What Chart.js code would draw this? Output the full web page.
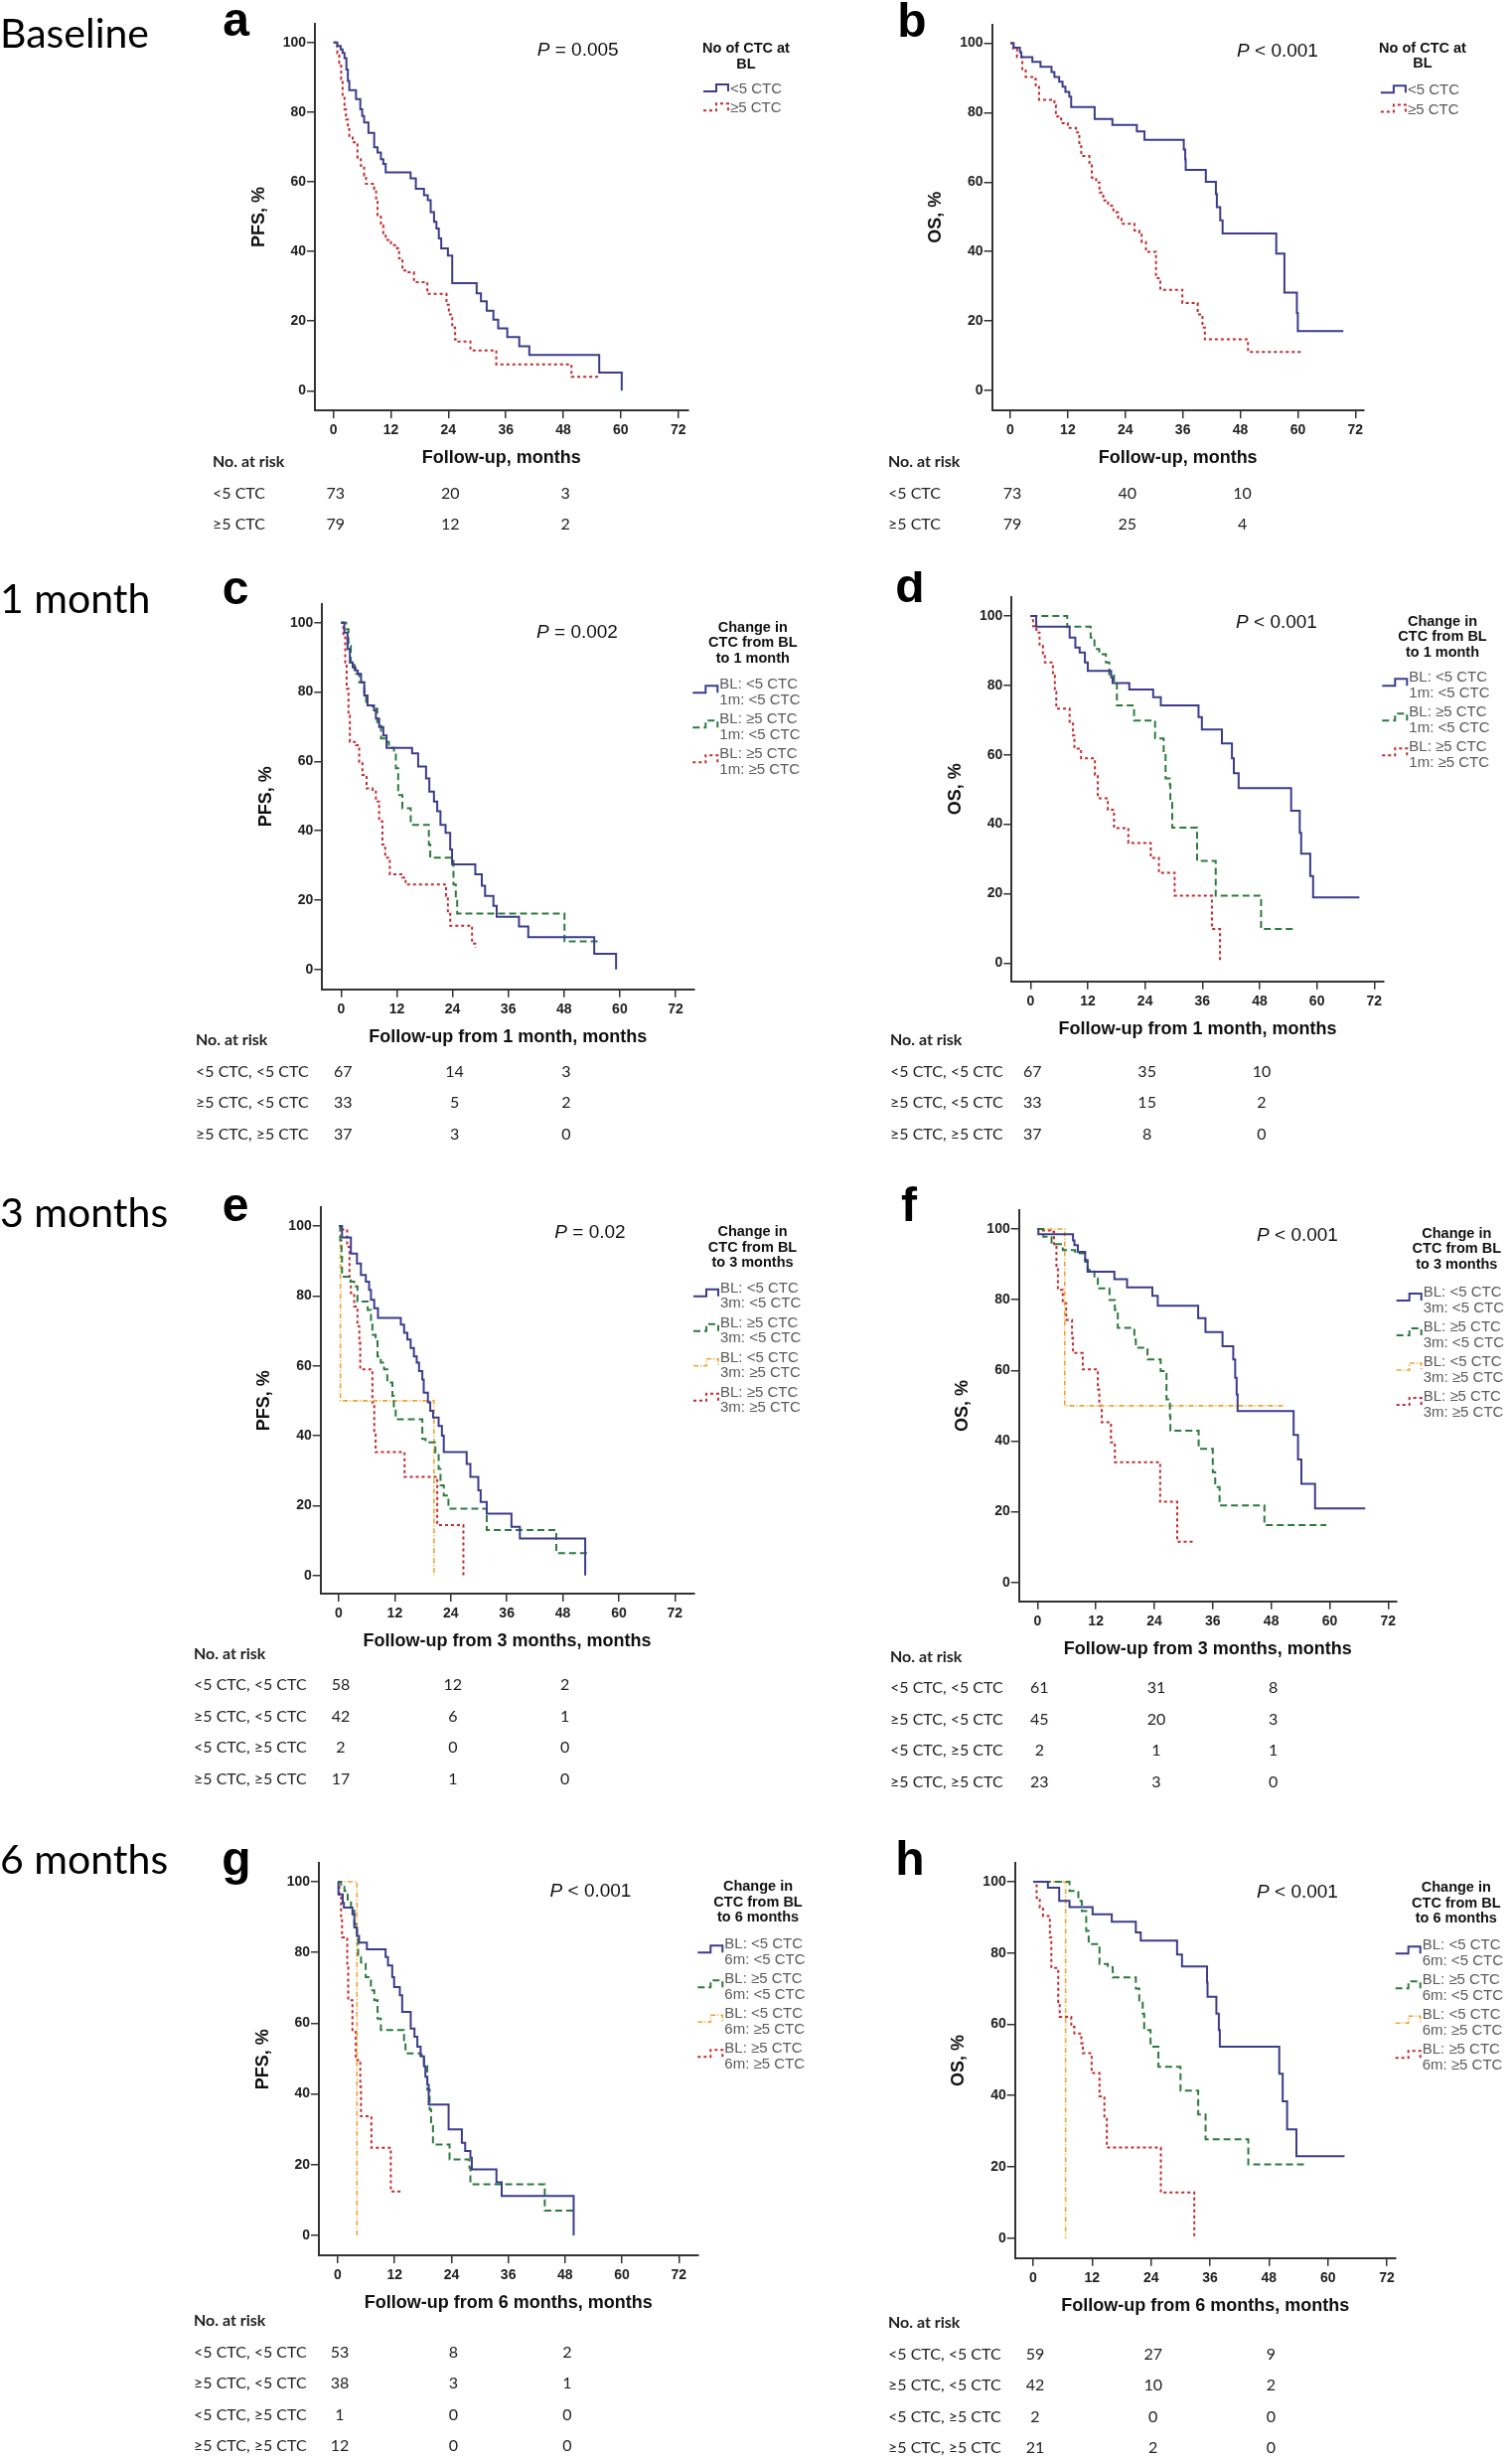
<!DOCTYPE html>
<html>
<head>
<meta charset="utf-8">
<script src="https://cdn.jsdelivr.net/npm/chart.js@4.4.1/dist/chart.umd.min.js"></script>
<style>
  html, body { margin: 0; padding: 0; background: #fff; }
  body { width: 1522px; height: 2474px; position: relative; overflow: hidden; }
  canvas { position: absolute; }
</style>
</head>
<body>
<script>
// ---- tick labels and risk-table columns ----
const monthTicks = [0, 12, 24, 36, 48, 60, 72];
const pctTicks = [0, 20, 40, 60, 80, 100];
const riskMonths = [0, 24, 48];

// ---- group labels ----
const baseGroups = ["<5 CTC", "≥5 CTC"];
const riskRows3 = ["<5 CTC, <5 CTC", "≥5 CTC, <5 CTC", "≥5 CTC, ≥5 CTC"];
const riskRows4 = ["<5 CTC, <5 CTC", "≥5 CTC, <5 CTC", "<5 CTC, ≥5 CTC", "≥5 CTC, ≥5 CTC"];
const change1m = ["BL: <5 CTC\n1m: <5 CTC", "BL: ≥5 CTC\n1m: <5 CTC", "BL: ≥5 CTC\n1m: ≥5 CTC"];
const change3m = ["BL: <5 CTC\n3m: <5 CTC", "BL: ≥5 CTC\n3m: <5 CTC", "BL: <5 CTC\n3m: ≥5 CTC", "BL: ≥5 CTC\n3m: ≥5 CTC"];
const change6m = ["BL: <5 CTC\n6m: <5 CTC", "BL: ≥5 CTC\n6m: <5 CTC", "BL: <5 CTC\n6m: ≥5 CTC", "BL: ≥5 CTC\n6m: ≥5 CTC"];

// ---- Kaplan-Meier curves: [month, % event-free] ----
const pfsBaseLow = [[0,100],[0.8,99],[1.5,98],[1.9,97],[2.3,95.5],[2.7,92.2],[3.0,88.9],[3.3,86.3],[4.7,83.7],[5.6,80.8],[6.0,78.9],[6.4,77],[7.3,74],[8.5,69.9],[9.2,68.4],[9.9,66.5],[10.4,65.1],[10.9,62.7],[16.1,61.0],[17.2,58.0],[18.9,56.1],[19.7,54.7],[20.3,51.3],[21.0,48.5],[21.5,46.6],[22.0,43.7],[22.5,40.9],[23.9,38.8],[24.8,30.9],[29.9,28.0],[30.8,25.7],[32.0,23.0],[33.4,20.4],[34.4,17.9],[36.3,15.4],[38.8,12.8],[40.9,10.3],[55.5,5.2],[60.2,0]];
const pfsBaseHigh = [[0,100],[0.4,99],[0.8,96.9],[1.2,94.1],[1.6,89.4],[1.9,84.6],[2.3,80.8],[2.6,77.9],[3.0,75.1],[3.3,72.7],[4.0,71.3],[5.0,67.0],[5.7,64.6],[6.4,61.8],[6.8,59.4],[8.5,58.0],[8.9,54.7],[9.2,50.4],[9.9,47.5],[10.4,45.2],[10.9,43.3],[12.0,41.8],[13.3,40.9],[13.7,38.0],[14.4,34.5],[15.4,34.0],[16.8,31.2],[19.6,27.8],[23.6,24.7],[24.1,21.9],[24.8,18.1],[25.4,14.7],[26.1,14.1],[28.6,11.6],[34.0,7.6],[49.7,4.0],[55.9,4.0]];
const osBaseLow = [[0,100],[0.7,98.7],[2.0,97.4],[2.3,96.0],[4.6,94.6],[6.3,93.2],[8.6,91.7],[9.2,90.3],[10.2,88.9],[10.9,87.5],[11.5,86.0],[12.3,84.6],[12.7,81.6],[17.6,78.2],[21.3,76.5],[26.4,74.6],[28.0,72.2],[36.2,69.4],[36.5,66.5],[36.6,63.5],[40.8,60.1],[42.9,56.6],[43.1,52.8],[43.8,49.0],[44.3,45.2],[55.5,39.4],[57.2,28.2],[59.8,22.3],[60.0,17.1],[69.5,17.1]];
const osBaseHigh = [[0,100],[0.6,98.4],[1.4,96.0],[2.5,92.2],[3.2,90.3],[4.6,89.8],[5.3,87.9],[6.0,83.7],[9.2,82.2],[9.5,78.9],[10.6,77.0],[12.0,75.6],[13.7,74.3],[14.4,70.3],[14.8,67.5],[16.5,65.6],[17.0,61.3],[17.9,59.9],[18.6,57.0],[19.4,54.7],[20.4,53.2],[21.5,51.3],[22.5,49.4],[23.2,48.0],[25.9,46.1],[26.9,45.6],[27.4,42.8],[28.3,39.9],[30.4,32.3],[31.3,29.0],[35.9,25.2],[39.1,21.9],[40.1,18.1],[40.6,14.7],[49.6,11.1],[60.9,11.1]];

const pfs1mLL = [[0,100],[0.7,97.1],[1.4,92.4],[1.9,88.5],[2.5,87.1],[3.1,86.2],[3.6,85.2],[4.3,82.8],[5.0,79.0],[5.7,76.1],[7.1,74.7],[7.5,72.3],[8.2,69.9],[9.1,67.5],[9.8,63.9],[15.3,62.3],[16.6,58.5],[18.3,55.1],[19.0,51.3],[20.0,48.4],[20.7,45.6],[21.4,41.7],[22.5,39.4],[23.5,34.6],[23.9,30.3],[28.9,27.4],[30.3,24.1],[31.0,21.2],[32.8,18.3],[33.5,15.2],[38.3,12.4],[40.3,9.3],[54.5,4.5],[59.2,0]];
const pfs1mHL = [[0,100],[1.1,98.1],[1.6,93.3],[2.1,88.5],[2.9,85.2],[3.9,82.8],[5.0,79.9],[5.4,76.1],[6.8,75.2],[7.8,71.3],[8.6,66.6],[9.5,65.6],[10.3,63.9],[11.4,62.8],[11.8,58.0],[12.3,50.3],[13.2,46.5],[15.0,41.7],[18.9,36.0],[19.2,32.2],[24.2,24.5],[24.7,20.7],[25.0,16.1],[48.1,8.1],[55.4,8.1]];
const pfs1mHH = [[0,100],[0.5,96.2],[0.9,88.5],[1.2,80.9],[1.6,73.2],[1.9,65.6],[3.2,64.7],[3.9,59.9],[4.6,56.1],[5.5,52.2],[6.8,51.3],[7.5,48.4],[8.2,42.7],[8.9,36.0],[9.5,32.2],[10.5,27.4],[13.2,26.5],[13.9,24.5],[22.6,21.2],[23.0,16.0],[23.5,12.6],[28.2,7.4],[28.9,6.2]];
const os1mLL = [[0,100],[1.2,96.9],[8.2,93.8],[9.4,90.9],[10.3,89.5],[11.4,86.6],[12.0,84.2],[16.9,82.3],[17.2,80.7],[20.7,78.8],[25.7,76.6],[27.3,74.2],[35.2,70.9],[35.9,67.3],[40.1,63.3],[42.2,59.0],[42.6,54.7],[43.6,50.4],[54.6,43.9],[56.4,37.5],[56.7,31.5],[58.6,25.1],[59.2,18.9],[68.9,18.9]];
const os1mHL = [[0,100],[7.7,96.9],[12.6,93.8],[13.4,90.5],[14.4,89.0],[15.8,86.6],[16.5,82.8],[17.5,80.9],[18.1,74.2],[21.7,69.9],[26.1,64.7],[27.9,59.9],[28.3,53.2],[29.2,51.3],[29.3,46.6],[29.7,39.0],[34.9,29.4],[38.8,19.4],[48.3,9.8],[55.3,9.8]];
const os1mHH = [[0,100],[0.55,97.1],[1.25,95.2],[1.9,91.4],[2.6,88.5],[3.0,86.6],[4.7,82.8],[5.1,78.1],[5.4,73.3],[8.2,69.5],[8.9,65.6],[9.2,61.8],[10.6,59.0],[13.5,54.2],[14.1,47.5],[16.2,44.2],[17.5,38.9],[20.5,34.6],[25.2,30.3],[26.9,26.0],[30.2,19.4],[38.0,9.8],[39.7,0]];

const pfs3mLL = [[0,100],[0.7,96.7],[2.6,92.1],[3.9,89.3],[4.75,86.0],[5.8,84.1],[6.5,81.7],[6.9,78.9],[7.6,76.5],[8.4,73.7],[13.3,71.8],[14.0,69.4],[14.7,67.5],[15.4,65.1],[16.1,62.7],[16.7,60.9],[17.2,58.5],[17.9,56.1],[18.2,52.3],[19.1,49.5],[19.6,47.1],[20.2,45.2],[21.4,42.8],[22.1,40.0],[22.5,35.3],[27.4,31.9],[28.2,28.2],[29.9,24.4],[30.4,21.0],[31.7,17.7],[37.0,13.9],[38.8,10.6],[52.8,0]];
const pfs3mHL = [[0,100],[0.3,95.9],[0.6,91.2],[0.7,85.5],[2.5,84.1],[3.3,82.7],[4.0,78.4],[6.2,76.0],[6.9,72.7],[7.2,68.9],[7.9,67.0],[8.3,62.7],[9.0,60.9],[9.7,59.0],[10.4,55.2],[11.5,51.4],[11.8,47.6],[12.2,44.7],[17.9,39.1],[18.6,38.1],[20.7,34.8],[21.4,30.5],[21.8,25.8],[22.5,22.9],[23.5,19.1],[31.7,13.0],[46.6,6.4],[53.5,6.4]];
const pfs3mLH = [[0,100],[0.35,50],[20.4,0]];
const pfs3mHH = [[0,100],[0.5,99],[1.8,94.0],[2.3,85.5],[2.6,80.8],[3.3,77.0],[4.0,71.3],[4.4,66.6],[4.6,59.0],[7.2,49.5],[7.6,41.0],[7.9,35.3],[14.1,28.2],[21.1,14.4],[26.7,0]];
const os3mLL = [[0,100],[0.2,98.5],[7.3,96.8],[7.6,95.4],[8.3,93.5],[9.8,91.2],[10.3,87.9],[15.8,85.8],[18.4,83.5],[23.6,81.1],[24.7,78.3],[33.0,74.8],[34.5,70.8],[38.0,66.8],[40.2,63.1],[40.6,57.9],[40.9,53.2],[41.1,48.5],[52.6,41.7],[53.5,34.8],[54.2,27.9],[57.0,20.9],[67.3,20.9]];
const os3mHL = [[0,100],[1.2,97.8],[2.9,95.7],[5.2,94.0],[7.75,93.1],[9.8,90.7],[10.3,88.4],[11.7,86.0],[12.4,83.2],[14.8,79.9],[15.9,77.1],[16.5,72.0],[19.9,68.7],[20.2,66.4],[22.6,63.1],[25.3,59.8],[26.5,51.8],[27.2,47.1],[27.3,42.9],[33.1,37.8],[36.0,31.2],[36.5,27.0],[37.4,21.8],[46.6,16.2],[59.3,16.2]];
const os3mLH = [[0,100],[5.6,50],[50.8,50]];
const os3mHH = [[0,100],[0.8,99.6],[2.7,99.2],[3.4,95.4],[3.9,89.3],[4.2,82.8],[5.2,79.0],[5.9,74.3],[7.1,69.2],[7.3,64.9],[9.3,60.3],[12.4,54.6],[12.7,50.0],[13.2,45.3],[15.1,39.6],[15.9,34.0],[25.2,22.8],[28.7,11.5],[32.2,11.5]];

const pfs6mLL = [[0,100],[0.14,96.4],[1.05,94.0],[1.3,92.7],[3.1,90.8],[3.5,87.1],[4.05,84.7],[4.5,82.8],[6.15,80.9],[10.1,78.7],[10.6,76.3],[11.5,73.0],[11.9,70.2],[13.1,67.9],[13.6,63.2],[15.4,58.5],[16.2,56.2],[16.8,53.4],[17.5,50.6],[18.2,47.8],[18.5,44.9],[18.9,42.6],[19.2,37.0],[23.4,30.0],[26.2,26.2],[26.9,23.9],[28.0,22.0],[28.3,18.7],[33.5,15.0],[34.6,11.2],[49.8,0]];
const pfs6mHL = [[0,100],[0.7,98.8],[1.4,97.4],[2.1,94.6],[2.8,91.8],[3.5,88.0],[4.05,84.3],[4.3,78.7],[4.9,77.2],[5.9,73.0],[7.0,69.3],[7.7,66.5],[8.4,61.3],[9.1,58.1],[14.0,55.2],[14.3,51.5],[17.5,51.0],[18.2,47.8],[18.9,41.2],[19.4,35.6],[19.7,30.9],[20.1,25.7],[23.6,21.5],[27.8,19.2],[28.0,14.5],[43.7,7.0],[50.5,7.0]];
const pfs6mLH = [[0,100],[4.05,0]];
const pfs6mHH = [[0,100],[0.35,96.4],[0.7,89.9],[0.9,84.3],[2.0,75.8],[2.2,66.5],[3.1,58.1],[3.8,49.6],[4.75,42.1],[4.9,33.7],[7.1,24.8],[11.2,12.4],[13.6,12.4]];
const os6mLL = [[0,100],[3.0,98.3],[5.3,94.6],[7.4,92.9],[12.1,90.9],[16.0,88.8],[20.9,85.8],[21.9,83.5],[29.3,79.6],[30.3,76.2],[35.4,71.8],[35.5,67.7],[37.3,63.0],[37.8,58.4],[38.0,53.7],[50.1,46.1],[50.8,38.4],[51.7,30.5],[53.6,23.0],[63.4,23.0]];
const os6mHL = [[0,100],[7.4,97.4],[9.2,94.6],[9.9,91.8],[10.8,86.2],[11.3,82.5],[13.5,76.9],[15.2,76.0],[16.2,73.2],[20.9,70.0],[21.6,66.7],[22.3,63.0],[22.6,58.4],[23.9,53.7],[25.5,48.1],[30.0,41.4],[33.6,34.7],[35.1,27.7],[43.8,20.7],[55.5,20.7]];
const os6mLH = [[0,100],[6.6,0]];
const os6mHH = [[0,100],[0.7,95.5],[1.35,92.8],[2.0,90.4],[3.4,84.4],[3.7,75.8],[5.1,66.3],[5.4,62.1],[7.75,59.3],[8.4,57.4],[9.8,54.6],[10.1,51.9],[11.9,46.3],[13.5,39.8],[14.5,33.7],[15.0,25.4],[26.0,12.8],[32.8,0]];

// ---- numbers at risk (columns = riskMonths) ----
const riskPfsBase = [[73, 20, 3], [79, 12, 2]];
const riskOsBase = [[73, 40, 10], [79, 25, 4]];
const riskPfs1m = [[67, 14, 3], [33, 5, 2], [37, 3, 0]];
const riskOs1m = [[67, 35, 10], [33, 15, 2], [37, 8, 0]];
const riskPfs3m = [[58, 12, 2], [42, 6, 1], [2, 0, 0], [17, 1, 0]];
const riskOs3m = [[61, 31, 8], [45, 20, 3], [2, 1, 1], [23, 3, 0]];
const riskPfs6m = [[53, 8, 2], [38, 3, 1], [1, 0, 0], [12, 0, 0]];
const riskOs6m = [[59, 27, 9], [42, 10, 2], [2, 0, 0], [21, 2, 0]];

// ---- line styles ----
const BLUE = { color: "#3b3c8c", dash: [], width: 2 };
const GREEN = { color: "#2c7a3e", dash: [7, 4], width: 2 };
const ORANGE = { color: "#f3a22c", dash: [5, 2, 1, 2], width: 1.6 };
const RED = { color: "#c5292f", dash: [3, 3], width: 2 };

const AXIS_FONT = "'Liberation Sans', Arial, sans-serif";
const TABLE_FONT = "Lato, 'Liberation Sans', sans-serif";
const Y_AXIS_W = 67;
const X_AXIS_H = 59;
const RISK_ROW_H = 31.5;

const pfsTitle = "PFS, %";
const osTitle = "OS, %";
const baseLegendTitle = ["No of CTC at", "BL"];

// ---- panel layout (page pixels) ----
const panels = [
  { box: [0, 0, 860, 550], area: [317, 24, 692.7, 413], x0: 335.7, x72: 682.7, y100: 42.7, y0: 393.3,
    letter: ["a", 237.5, 36], row: ["Baseline", 47.5], yTitle: pfsTitle, xTitle: "Follow-up, months",
    p: ["= 0.005", 246, 8.3], legTitle: baseLegendTitle, leg: [399.3, 415.3, 6.6, 47.3],
    series: [[pfsBaseLow, baseGroups[0], BLUE], [pfsBaseHigh, baseGroups[1], RED]],
    risk: riskPfsBase, riskLabels: baseGroups, table: [214, 52.3] },
  { box: [870, 0, 652, 550], area: [998.5, 24.5, 1372.8, 413], x0: 1017, x72: 1364.3, y100: 43.5, y0: 393,
    letter: ["b", 918, 36.5], yTitle: osTitle, xTitle: "Follow-up, months",
    p: ["< 0.001", 269, 8.7], legTitle: baseLegendTitle, leg: [399.9, 415, 5.3, 47.8],
    series: [[osBaseLow, baseGroups[0], BLUE], [osBaseHigh, baseGroups[1], RED]],
    risk: riskOsBase, riskLabels: baseGroups, table: [894, 52.3] },
  { box: [0, 575, 860, 585], area: [324.3, 608, 698.3, 995.7], x0: 343.3, x72: 680, y100: 626.7, y0: 975.7,
    letter: ["c", 237, 607.5], row: ["1 month", 617], yTitle: pfsTitle, xTitle: "Follow-up from 1 month, months",
    p: ["= 0.002", 237.7, 10], legTitle: ["Change in", "CTC from BL", "to 1 month"], leg: [381, 414.5, 5, 62.6],
    series: [[pfs1mLL, change1m[0], BLUE], [pfs1mHL, change1m[1], GREEN], [pfs1mHH, change1m[2], RED]],
    risk: riskPfs1m, riskLabels: riskRows3, table: [197, 51.6] },
  { box: [870, 575, 652, 585], area: [1018.3, 601, 1392.7, 987.7], x0: 1037.3, x72: 1383.3, y100: 620, y0: 969.3,
    letter: ["d", 916, 605.5], yTitle: osTitle, xTitle: "Follow-up from 1 month, months",
    p: ["< 0.001", 247.7, 6.7], legTitle: ["Change in", "CTC from BL", "to 1 month"], leg: [381, 414.7, 5.7, 62.3],
    series: [[os1mLL, change1m[0], BLUE], [os1mHL, change1m[1], GREEN], [os1mHH, change1m[2], RED]],
    risk: riskOs1m, riskLabels: riskRows3, table: [896, 59.6] },
  { box: [0, 1190, 860, 625], area: [322.7, 1215.3, 698.3, 1604], x0: 341, x72: 679.3, y100: 1234, y0: 1585.7,
    letter: ["e", 237, 1228.5], row: ["3 months", 1235], yTitle: pfsTitle, xTitle: "Follow-up from 3 months, months",
    p: ["= 0.02", 253, 6.7], legTitle: ["Change in", "CTC from BL", "to 3 months"], leg: [384, 416.5, 6, 62.7],
    series: [[pfs3mLL, change3m[0], BLUE], [pfs3mHL, change3m[1], GREEN], [pfs3mLH, change3m[2], ORANGE], [pfs3mHH, change3m[3], RED]],
    risk: riskPfs3m, riskLabels: riskRows4, table: [195, 60.5] },
  { box: [870, 1190, 652, 625], area: [1025.7, 1218.3, 1406, 1611.7], x0: 1044.3, x72: 1397.3, y100: 1237, y0: 1592.7,
    letter: ["f", 915, 1228.5], yTitle: osTitle, xTitle: "Follow-up from 3 months, months",
    p: ["< 0.001", 261.7, 7], legTitle: ["Change in", "CTC from BL", "to 3 months"], leg: [388.4, 422, 4.7, 64],
    series: [[os3mLL, change3m[0], BLUE], [os3mHL, change3m[1], GREEN], [os3mLH, change3m[2], ORANGE], [os3mHH, change3m[3], RED]],
    risk: riskOs3m, riskLabels: riskRows4, table: [896, 56] },
  { box: [0, 1850, 860, 624], area: [321, 1875.3, 702.7, 2270], x0: 340, x72: 683.3, y100: 1894, y0: 2250,
    letter: ["g", 238, 1886.5], row: ["6 months", 1886], yTitle: pfsTitle, xTitle: "Follow-up from 6 months, months",
    p: ["< 0.001", 254.5, 10], legTitle: ["Change in", "CTC from BL", "to 6 months"], leg: [389.3, 423, 5.3, 63.3],
    series: [[pfs6mLL, change6m[0], BLUE], [pfs6mHL, change6m[1], GREEN], [pfs6mLH, change6m[2], ORANGE], [pfs6mHH, change6m[3], RED]],
    risk: riskPfs6m, riskLabels: riskRows4, table: [195, 66] },
  { box: [870, 1850, 652, 624], area: [1021.7, 1875.3, 1405, 2272.7], x0: 1040, x72: 1396, y100: 1894, y0: 2252.7,
    letter: ["h", 916, 1886.5], yTitle: osTitle, xTitle: "Follow-up from 6 months, months",
    p: ["< 0.001", 266, 11], legTitle: ["Change in", "CTC from BL", "to 6 months"], leg: [391.7, 425.8, 6, 64.3],
    series: [[os6mLL, change6m[0], BLUE], [os6mHL, change6m[1], GREEN], [os6mLH, change6m[2], ORANGE], [os6mHH, change6m[3], RED]],
    risk: riskOs6m, riskLabels: riskRows4, table: [894, 65.5] },
];

function makeDataset(points, label, style) {
  return {
    label: label,
    data: points.map(p => ({ x: p[0], y: p[1] })),
    borderColor: style.color,
    borderWidth: style.width,
    borderDash: style.dash,
    stepped: true,
    pointRadius: 0,
    fill: false,
    tension: 0,
  };
}

// draws panel letter, row title, P value, legend and the numbers-at-risk table
function panelText(p) {
  return {
    id: "panelText",
    afterDraw(chart) {
      const ctx = chart.ctx;
      const xs = chart.scales.x, ys = chart.scales.y;
      const ox = p.box[0], oy = p.box[1];
      const x0 = xs.getPixelForValue(0), y100 = ys.getPixelForValue(100);
      ctx.save();
      ctx.textBaseline = "alphabetic";
      ctx.fillStyle = "#000";
      ctx.textAlign = "center";
      ctx.font = "bold 48px " + AXIS_FONT;
      ctx.fillText(p.letter[0], p.letter[1] - ox, p.letter[2] - oy);
      if (p.row) {
        ctx.textAlign = "left";
        ctx.font = "41px " + TABLE_FONT;
        ctx.fillText(p.row[0], 0, p.row[1] - oy);
      }

      // P value
      ctx.textBaseline = "middle";
      ctx.fillStyle = "#111";
      ctx.font = "italic 19px " + AXIS_FONT;
      const pw = ctx.measureText("P").width;
      ctx.font = "19px " + AXIS_FONT;
      const rest = " " + p.p[0];
      const rw = ctx.measureText(rest).width;
      const px = x0 + p.p[1] - (pw + rw) / 2, py = y100 + p.p[2];
      ctx.textAlign = "left";
      ctx.font = "italic 19px " + AXIS_FONT;
      ctx.fillText("P", px, py);
      ctx.font = "19px " + AXIS_FONT;
      ctx.fillText(rest, px + pw, py);

      // legend
      ctx.textAlign = "center";
      ctx.font = "bold 14.5px " + AXIS_FONT;
      p.legTitle.forEach((t, i) => ctx.fillText(t, x0 + p.leg[1], y100 + p.leg[2] + i * 15.5));
      let iy = y100 + p.leg[3];
      const lx = x0 + p.leg[0];
      chart.data.datasets.forEach(ds => {
        const lines = ds.label.split("\n");
        const hi = lines.length > 1 ? iy + 1 : iy - 5;
        const lo = hi + 7;
        ctx.beginPath();
        ctx.setLineDash(ds.borderDash);
        ctx.strokeStyle = ds.borderColor;
        ctx.lineWidth = ds.borderWidth;
        ctx.moveTo(lx - 27, lo);
        ctx.lineTo(lx - 14, lo);
        ctx.lineTo(lx - 14, hi);
        ctx.lineTo(lx - 2, hi);
        ctx.lineTo(lx - 2, lo);
        ctx.stroke();
        ctx.setLineDash([]);
        ctx.fillStyle = "#5a5a5a";
        ctx.textAlign = "left";
        ctx.font = "15px " + AXIS_FONT;
        lines.forEach((l, j) => ctx.fillText(l, lx, iy + j * 15.5));
        iy += lines.length > 1 ? 35 : 19.3;
      });

      // numbers at risk
      const ty = chart.chartArea.bottom + p.table[1];
      const tx = p.table[0] - ox;
      ctx.fillStyle = "#222";
      ctx.textAlign = "left";
      ctx.font = "bold 16px " + TABLE_FONT;
      ctx.fillText("No. at risk", tx, ty);
      ctx.font = "16px " + TABLE_FONT;
      p.risk.forEach((row, i) => {
        const ry = ty + (i + 1) * RISK_ROW_H;
        ctx.textAlign = "left";
        ctx.fillText(p.riskLabels[i], tx, ry);
        ctx.textAlign = "center";
        row.forEach((n, j) => ctx.fillText(String(n), xs.getPixelForValue(riskMonths[j]) + 2, ry));
      });
      ctx.restore();
    },
  };
}

function buildPanel(p) {
  const canvas = document.createElement("canvas");
  canvas.width = p.box[2];
  canvas.height = p.box[3];
  canvas.style.left = p.box[0] + "px";
  canvas.style.top = p.box[1] + "px";
  document.body.appendChild(canvas);

  const pxm = (p.x72 - p.x0) / 72;
  const pxu = (p.y0 - p.y100) / 100;
  const tickFont = { family: AXIS_FONT, weight: "bold", size: 14 };
  const titleFont = { family: AXIS_FONT, weight: "bold", size: 18 };
  const grid = { display: true, drawOnChartArea: false, drawTicks: true, tickLength: 8, color: "#333", lineWidth: 1.5 };
  const border = { display: true, color: "#333", width: 2 };

  new Chart(canvas.getContext("2d"), {
    type: "line",
    data: { datasets: p.series.map(s => makeDataset(s[0], s[1], s[2])) },
    options: {
      responsive: false,
      animation: false,
      devicePixelRatio: 1,
      layout: {
        padding: {
          left: p.area[0] - p.box[0] - Y_AXIS_W,
          top: p.area[1] - p.box[1],
          right: p.box[0] + p.box[2] - p.area[2],
          bottom: p.box[1] + p.box[3] - p.area[3] - X_AXIS_H,
        },
      },
      plugins: { legend: { display: false }, tooltip: { enabled: false } },
      scales: {
        x: {
          type: "linear",
          min: -(p.x0 - p.area[0]) / pxm,
          max: 72 + (p.area[2] - p.x72) / pxm,
          afterBuildTicks: s => { s.ticks = monthTicks.map(v => ({ value: v })); },
          afterFit: s => { s.height = X_AXIS_H; },
          grid: grid,
          border: border,
          ticks: { color: "#222", font: tickFont, padding: 4, maxRotation: 0, autoSkip: false },
          title: { display: true, text: p.xTitle, color: "#111", font: titleFont, padding: { top: 0, bottom: 0 } },
        },
        y: {
          type: "linear",
          min: -(p.area[3] - p.y0) / pxu,
          max: 100 + (p.y100 - p.area[1]) / pxu,
          afterBuildTicks: s => { s.ticks = pctTicks.map(v => ({ value: v })); },
          afterFit: s => { s.width = Y_AXIS_W; },
          grid: grid,
          border: border,
          ticks: { color: "#222", font: tickFont, padding: 1 },
          title: { display: true, text: p.yTitle, color: "#111", font: titleFont, padding: { top: 0, bottom: 0 } },
        },
      },
    },
    plugins: [panelText(p)],
  });
}

panels.forEach(buildPanel);
</script>
</body>
</html>
